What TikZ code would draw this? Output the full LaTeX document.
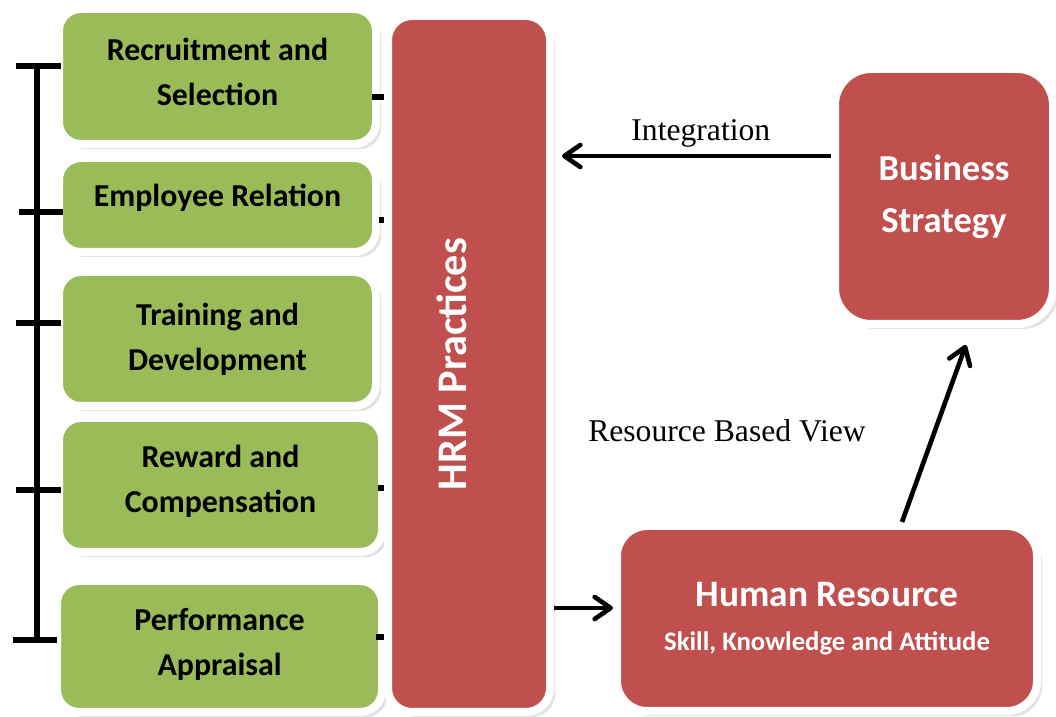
\documentclass[tikz,border=0pt]{standalone}
\usepackage{fontspec}
\setmainfont{Liberation Serif}
\setsansfont{Carlito}
\usetikzlibrary{arrows.meta,positioning,shadows}

\definecolor{boxgreen}{HTML}{9BBB59}
\definecolor{boxred}{HTML}{C0504D}

\tikzset{
  boxshadow/.style={drop shadow={shadow xshift=0.13cm,shadow yshift=-0.13cm,opacity=0.22}},
  practice/.style={draw=white,line width=0.2cm,fill=boxgreen,rounded corners=0.55cm,
    boxshadow,align=center,text=black,font=\sffamily\bfseries\fontsize{22.7}{32}\selectfont},
  block/.style={draw=white,line width=0.2cm,fill=boxred,boxshadow,align=center,
    text=white,font=\sffamily\bfseries},
  bar/.style={line width=3.8pt},
  stub/.style={line width=3.8pt},
  flow/.style={line width=3.3pt,
    -{Straight Barb[length=4mm,width=5.5mm,line cap=round,line join=round]}},
  note/.style={font=\fontsize{22.5}{27}\selectfont},
}

\begin{document}
\begin{tikzpicture}[x=1cm,y=1cm]
  \useasboundingbox (0,0) rectangle (26.4,17.925);

  % practices (left column)
  \node[practice,minimum width=7.925cm,minimum height=3.375cm,text depth=0.22cm] (rec)
    at (5.4375,16.0125) {Recruitment and\\Selection};
  \node[practice,minimum width=7.925cm,minimum height=2.35cm,text depth=0.5cm] (emp)
    at (5.4375,12.8) {Employee Relation};
  \node[practice,minimum width=7.925cm,minimum height=3.35cm] (trn)
    at (5.4375,9.45) {Training and\\Development};
  \node[practice,minimum width=8.075cm,minimum height=3.35cm,text depth=0.3cm] (rew)
    at (5.5125,5.8) {Reward and\\Compensation};
  \node[practice,minimum width=8.125cm,minimum height=3.275cm,text depth=0.25cm] (prf)
    at (5.49,1.7625) {Performance\\Appraisal};

  % bracket holding the practices together
  \coordinate (b1) at (0.4,16.275);
  \coordinate (b2) at (0.475,12.625);
  \coordinate (b3) at (0.4,9.85);
  \coordinate (b4) at (0.4,5.675);
  \coordinate (b5) at (0.325,1.925);
  \draw[bar] (b1 -| 0.925,0) -- (b5 -| 0.925,0);
  \draw[bar] (b1) -- (b1 -| rec.west) -- ++(0.15,0);
  \draw[bar] (b2) -- (b2 -| emp.west) -- ++(0.2,0);
  \draw[bar] (b3) -- (b3 -| trn.west) -- ++(0.15,0);
  \draw[bar] (b4) -- (b4 -| rew.west) -- ++(0.15,0);
  \draw[bar] (b5) -- (b5 -| prf.west) -- ++(0.1,0);

  % HRM column
  \node[block,rounded corners=0.6cm,minimum width=4.05cm,minimum height=17.4cm] (hrm) at (11.725,8.825) {};
  \node[rotate=90,text=white,font=\sffamily\bfseries\fontsize{30}{36}\selectfont] (hrmtxt)
    at ([xshift=-0.44cm]hrm.center) {HRM Practices};

  % links into the HRM column
  \draw[stub] (rec.east |- 0,15.5) ++(-0.2,0) -- (hrm.west |- 0,15.5);
  \draw[stub] (emp.east |- 0,12.425) ++(-0.02,0) -- (hrm.west |- 0,12.425);
  \draw[stub] (rew.east |- 0,5.725) ++(-0.2,0) -- (hrm.west |- 0,5.725);
  \draw[stub] (prf.east |- 0,2.0) ++(-0.26,0) -- (hrm.west |- 0,2.0);

  % strategy and resource
  \node[block,rounded corners=0.9cm,minimum width=5.45cm,minimum height=6.375cm,
    font=\sffamily\bfseries\fontsize{26}{37}\selectfont] (bs) at (23.6,13.0125)
    {Business\\Strategy};
  \node[block,rounded corners=0.75cm,minimum width=10.5cm,minimum height=4.625cm,
    font=\sffamily\bfseries\fontsize{26.6}{31}\selectfont] (hr) at (20.675,2.4625)
    {Human Resource\\{\fontsize{19}{31}\selectfont Skill, Knowledge and Attitude}};

  % arrows
  \draw[flow,shorten >=0.2cm] (bs.west |- 0,14.025) -- (hrm.east |- 0,14.025)
    node[note,pos=0.47,above=0.05cm] (integ) {Integration};
  \draw[flow] (hrm.east |- 0,2.725) -- (hr.west |- 0,2.725);
  \draw[flow,shorten >=0.45cm] ([xshift=1.875cm]hr.north) -- ([xshift=0.7cm]bs.south);
  \node[note] (rbv) at (18.175,7.15) {Resource Based View};
\end{tikzpicture}
\end{document}
